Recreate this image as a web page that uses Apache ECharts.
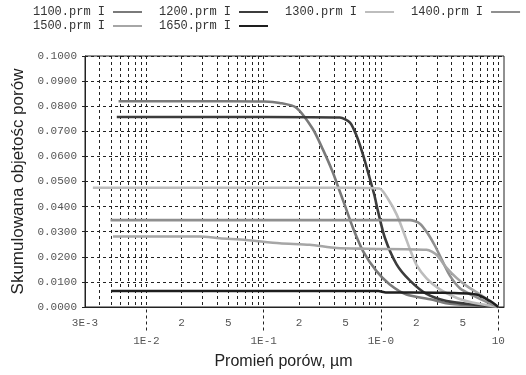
<!DOCTYPE html>
<html><head><meta charset="utf-8">
<script src="https://cdn.jsdelivr.net/npm/echarts@6/dist/echarts.min.js"></script>
<style>html,body{margin:0;padding:0;background:#fff}#c{width:526px;height:375px}</style>
</head><body><div id="c"></div>
<script>
// ---- data (pore radius in µm, cumulative pore volume) ----
const seriesNames = ['1100.prm I', '1200.prm I', '1300.prm I', '1400.prm I', '1500.prm I', '1650.prm I'];

const r1100 = [0.0058, 0.05, 0.102, 0.137, 0.19, 0.262, 0.319, 0.388, 0.446, 0.492, 0.579, 0.705, 0.917, 1.19, 1.65, 2.7, 3.6, 6, 10];
const v1100 = [0.0820, 0.0820, 0.0819, 0.0813, 0.0794, 0.0710, 0.0629, 0.0538, 0.0460, 0.0406, 0.0314, 0.0222, 0.0143, 0.0090, 0.0050, 0.0030, 0.0015, 0.0006, 0];

const r1200 = [0.0056, 0.1, 0.446, 0.545, 0.62, 0.705, 0.80, 0.88, 0.94, 1.08, 1.36, 1.77, 2.45, 3.63, 6.08, 10];
const v1200 = [0.0757, 0.0757, 0.0755, 0.0735, 0.0682, 0.0605, 0.0515, 0.0445, 0.0385, 0.0276, 0.0170, 0.0105, 0.0052, 0.0024, 0.0010, 0];

const r1300 = [0.0035, 0.5, 0.97, 1.15, 1.36, 1.55, 1.77, 2.01, 2.45, 3.18, 4.5, 6, 10];
const v1300 = [0.0475, 0.0475, 0.0472, 0.0430, 0.0369, 0.0302, 0.0229, 0.0168, 0.0114, 0.0070, 0.0035, 0.0018, 0];

const r1400 = [0.00495, 0.5, 1.77, 2.15, 2.53, 2.88, 3.29, 3.87, 4.71, 6.12, 8, 10];
const v1400 = [0.0346, 0.0346, 0.0346, 0.0332, 0.0290, 0.0245, 0.0190, 0.0125, 0.0075, 0.0045, 0.0020, 0];

const r1500 = [0.0052, 0.0285, 0.0422, 0.071, 0.137, 0.247, 0.418, 0.75, 2.45, 2.98, 3.63, 4.41, 5.37, 6.99, 10];
const v1500 = [0.0281, 0.0281, 0.0274, 0.0267, 0.0254, 0.0248, 0.0235, 0.0232, 0.0228, 0.0208, 0.0156, 0.0116, 0.0084, 0.0050, 0];

const r1650 = [0.005, 0.95, 1.1, 3, 6.5, 8.5, 10];
const v1650 = [0.0064, 0.0064, 0.0058, 0.0057, 0.0050, 0.0024, 0];

const seriesColors = ['#7a7a7a', '#3c3c3c', '#bdbdbd', '#8f8f8f', '#a6a6a6', '#1e1e1e'];

// ---- axis ticks / labels ----
const xMinRadius = 0.003, xMaxRadius = 11.2;
const xRow1Values = [0.003, 0.02, 0.05, 0.2, 0.5, 2, 5];
const xRow1Labels = ['3E-3', '2', '5', '2', '5', '2', '5'];
const xDecadeValues = [0.01, 0.1, 1, 10];
const xDecadeLabels = ['1E-2', '1E-1', '1E-0', '10'];
const gridMultipliers = [1, 2, 3, 4, 5, 6, 7, 8, 9];
const gridDecades = [0.001, 0.01, 0.1, 1, 10];
const yMin = 0, yMax = 0.1, yStep = 0.01;

const LOG = v => Math.log10(v);
const xMin = LOG(xMinRadius), xMax = LOG(xMaxRadius);
const gridRadii = [];
gridDecades.forEach(d => gridMultipliers.forEach(m => {
  const v = m * d;
  if (v >= xMinRadius - 1e-12 && v <= xMaxRadius) gridRadii.push(v);
}));
function lookup(vals, labels, x) {
  for (let i = 0; i < vals.length; i++) if (Math.abs(LOG(vals[i]) - x) < 1e-6) return labels[i];
  return '';
}

const radii = [r1100, r1200, r1300, r1400, r1500, r1650];
const values = [v1100, v1200, v1300, v1400, v1500, v1650];

const mono = '"Liberation Mono", "DejaVu Sans Mono", monospace';
const dash = { color: '#222', width: 1, type: [3, 3] };

const chart = echarts.init(document.getElementById('c'), null, { renderer: 'canvas' });
const gridPos = { left: 85, right: 22, top: 56, height: 253.5 };

chart.setOption({
  animation: false,
  backgroundColor: '#fff',
  grid: [
    Object.assign({ show: true, borderColor: '#222', borderWidth: 1, backgroundColor: 'transparent' }, gridPos),
    Object.assign({ show: false }, gridPos)
  ],
  legend: [
    {
      data: seriesNames.slice(0, 4), left: 33, top: 6, align: 'right', icon: 'rect',
      itemWidth: 29, itemHeight: 2, itemGap: 17, padding: 0,
      textStyle: { fontFamily: mono, fontSize: 12, color: '#333', padding: [0, 3, 0, 0] }
    },
    {
      data: seriesNames.slice(4), left: 33, top: 20, align: 'right', icon: 'rect',
      itemWidth: 29, itemHeight: 2, itemGap: 17, padding: 0,
      textStyle: { fontFamily: mono, fontSize: 12, color: '#333', padding: [0, 3, 0, 0] }
    }
  ],
  xAxis: [
    {
      type: 'value', gridIndex: 0, min: xMin, max: xMax,
      axisLine: { show: true, onZero: false, lineStyle: { color: '#222', width: 1 } },
      axisTick: { show: false, customValues: gridRadii.map(LOG) },
      splitLine: { show: true, lineStyle: dash },
      axisLabel: {
        customValues: xRow1Values.map(LOG), margin: 11,
        fontFamily: mono, fontSize: 11, color: '#555',
        formatter: v => lookup(xRow1Values, xRow1Labels, v)
      },
      name: 'Promień porów, µm', nameLocation: 'middle', nameGap: 47,
      nameTextStyle: { fontFamily: 'Arial, "Liberation Sans", sans-serif', fontSize: 16, color: '#222', padding: [0, 22, 0, 0] }
    },
    {
      type: 'value', gridIndex: 1, min: xMin, max: xMax,
      axisLine: { show: false, onZero: false },
      axisTick: { show: true, customValues: xDecadeValues.map(LOG), length: 23, lineStyle: dash },
      splitLine: { show: false },
      axisLabel: {
        customValues: xDecadeValues.map(LOG), margin: 26,
        fontFamily: mono, fontSize: 11, color: '#555',
        formatter: v => lookup(xDecadeValues, xDecadeLabels, v)
      }
    }
  ],
  yAxis: [
    {
      type: 'value', gridIndex: 0, min: yMin, max: yMax, interval: yStep,
      axisLine: { show: true, onZero: false, lineStyle: { color: '#222', width: 1 } },
      axisTick: { show: true, length: 4, lineStyle: dash },
      splitLine: { show: true, lineStyle: dash },
      axisLabel: { margin: 8, fontFamily: mono, fontSize: 11, color: '#555', formatter: v => v.toFixed(4) },
      name: 'Skumulowana objetośc porów', nameLocation: 'middle', nameGap: 58,
      nameTextStyle: { fontFamily: 'Arial, "Liberation Sans", sans-serif', fontSize: 17, color: '#222' }
    },
    { type: 'value', gridIndex: 1, min: yMin, max: yMax, show: false, axisLine: { onZero: false } }
  ],
  series: seriesNames.map((name, i) => ({
    name, type: 'line', xAxisIndex: 0, yAxisIndex: 0,
    showSymbol: false, smooth: 0.25,
    color: seriesColors[i],
    lineStyle: { color: seriesColors[i], width: 2.6 },
    data: radii[i].map((r, j) => [LOG(r), values[i][j]])
  }))
});
</script></body></html>
